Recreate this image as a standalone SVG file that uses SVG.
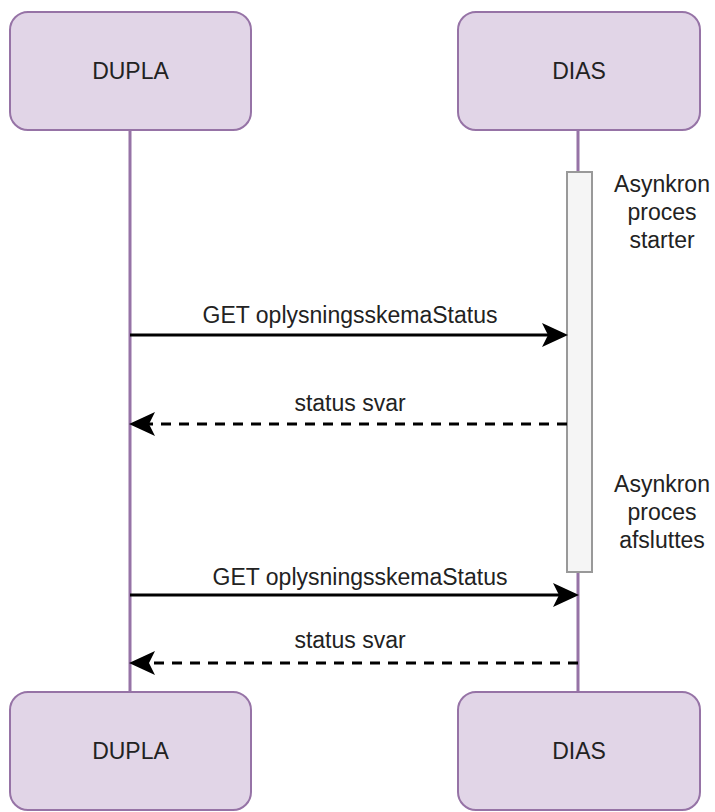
<svg xmlns="http://www.w3.org/2000/svg" width="715" height="812" viewBox="0 0 715 812">
<style>
.box{fill:#e1d5e7;stroke:#9673a6;stroke-width:2}
.life{stroke:#9673a6;stroke-width:3;fill:none}
.lbl{font-family:"Liberation Sans",Arial,sans-serif;font-size:23px;fill:#222;text-anchor:middle}
.msg{stroke:#000;stroke-width:3;fill:none}
.dash{stroke-dasharray:10 8}
.act{fill:#f5f5f5;stroke:#999;stroke-width:2}
</style>
<defs>
<marker id="arr" markerUnits="userSpaceOnUse" viewBox="0 0 26 24" markerWidth="26" markerHeight="24" refX="15" refY="12" orient="auto">
<path d="M0,0 L26,12 L0,24 L6,12 Z" fill="#000"/>
</marker>
</defs>
<g id="lifelines">
<line class="life" x1="130" y1="130" x2="130" y2="692"/>
<line class="life" x1="578" y1="130" x2="578" y2="692"/>
</g>
<g id="dupla-top"><rect class="box" x="10" y="12" width="241" height="118" rx="18"/><text class="lbl" x="130.5" y="79">DUPLA</text></g>
<g id="dias-top"><rect class="box" x="458" y="12" width="242" height="118" rx="18"/><text class="lbl" x="579" y="79">DIAS</text></g>
<g id="dupla-bottom"><rect class="box" x="10" y="692" width="241" height="118" rx="18"/><text class="lbl" x="130.5" y="759">DUPLA</text></g>
<g id="dias-bottom"><rect class="box" x="458" y="692" width="242" height="118" rx="18"/><text class="lbl" x="579" y="759">DIAS</text></g>
<g id="activation"><rect class="act" x="567" y="172" width="25" height="400"/></g>
<g id="note-start"><text class="lbl" x="662"><tspan x="662" y="192">Asynkron</tspan><tspan x="662" y="220">proces</tspan><tspan x="662" y="248">starter</tspan></text></g>
<g id="note-end"><text class="lbl" x="662"><tspan x="662" y="492">Asynkron</tspan><tspan x="662" y="520">proces</tspan><tspan x="662" y="548">afsluttes</tspan></text></g>
<g id="connectors">
<line class="msg" x1="130" y1="335" x2="557" y2="335" marker-end="url(#arr)"/>
<text class="lbl" x="350" y="323">GET oplysningsskemaStatus</text>
<line class="msg dash" x1="567" y1="424" x2="140" y2="424" marker-end="url(#arr)"/>
<text class="lbl" x="350" y="411">status svar</text>
<line class="msg" x1="130" y1="595" x2="568" y2="595" marker-end="url(#arr)"/>
<text class="lbl" x="360" y="585">GET oplysningsskemaStatus</text>
<line class="msg dash" x1="578" y1="663" x2="140" y2="663" marker-end="url(#arr)"/>
<text class="lbl" x="350" y="648">status svar</text>
</g>
</svg>
